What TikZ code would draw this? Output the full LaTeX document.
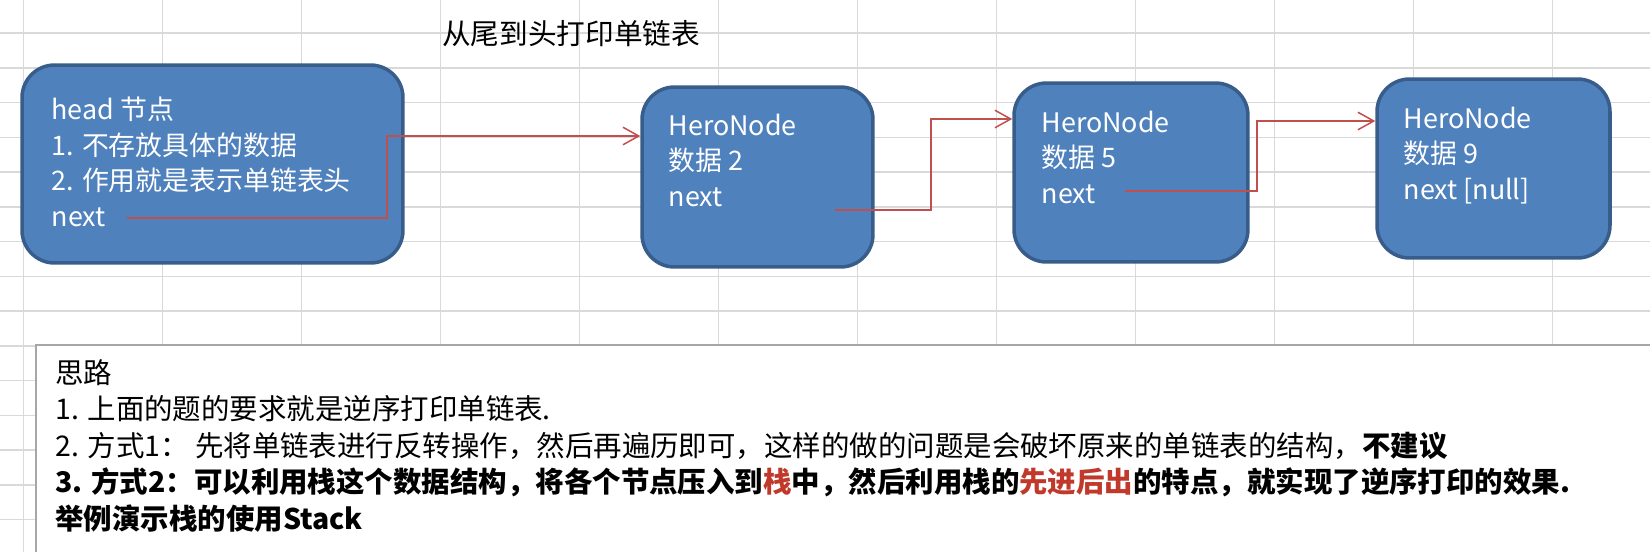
\documentclass[tikz,border=0pt]{standalone}
\usepackage{fontspec}
\setmainfont{Noto Sans CJK SC}
\usetikzlibrary{arrows.meta,positioning}
\usepackage{xcolor}
\definecolor{nodeblue}{HTML}{4F81BD}
\definecolor{nodeedge}{HTML}{385D8A}
\definecolor{linkred}{HTML}{C0504D}
\definecolor{gridgray}{HTML}{D9D9D9}
\definecolor{boxgray}{HTML}{A6A6A6}
\definecolor{hotred}{HTML}{C0392B}

\tikzset{
  listnode/.style={draw=nodeedge, fill=nodeblue, line width=2pt, rounded corners=0.65cm, inner sep=0pt},
  nodetext/.style={text=white, align=left, anchor=north west, inner sep=0pt, font=\fontsize{15.3}{20.4}\selectfont},
  link/.style={->, draw=linkred, line width=0.85pt},
  gridline/.style={draw=gridgray, line width=0.85pt},
}

\begin{document}
\begin{tikzpicture}[x=0.02cm, y=-0.02cm, >={Straight Barb[length=9pt,width=10pt]}]
  \useasboundingbox (0,0) rectangle (1650,552);
  \foreach \gx in {0,...,11} \draw[gridline] (23.5+139*\gx,0) -- (23.5+139*\gx,552);
  \foreach \gy in {0,...,14} \draw[gridline] (0,33+34.75*\gy) -- (1650,33+34.75*\gy);

  \node (title) [anchor=west, inner sep=0pt, font=\fontsize{16.3}{20}\selectfont] at (442,34) {从尾到头打印单链表};

  \node (head) [listnode, minimum width=7.62cm, minimum height=3.96cm] at (212.5,164) {};
  \node (n2) [listnode, minimum width=4.62cm, minimum height=3.6cm] at (757.5,177) {};
  \node (n5) [listnode, minimum width=4.68cm, minimum height=3.58cm] at (1131,172.5) {};
  \node (n9) [listnode, minimum width=4.66cm, minimum height=3.58cm] at (1493.5,168.5) {};

  \node (headtext) [nodetext] at ([shift={(31,33)}]head.north west) {head 节点\\1. 不存放具体的数据\\2. 作用就是表示单链表头\\next};
  \node (n2text) [nodetext] at ([shift={(28,28)}]n2.north west) {HeroNode\\数据 2\\next};
  \node (n5text) [nodetext] at ([shift={(29,29)}]n5.north west) {HeroNode\\数据 5\\next};
  \node (n9text) [nodetext] at ([shift={(28,29)}]n9.north west) {HeroNode\\数据 9\\next [null]};

  \coordinate (headnext) at (127,218);
  \coordinate (n2next) at (835,210);
  \coordinate (n5next) at (1125,191);

  \draw[link] (headnext) -- ++(260,0) |- ([shift={(0,-41)}]n2.west);
  \draw[link] (n2next) -- ++(96,0) |- ([shift={(0,-53.5)}]n5.west);
  \draw[link] (n5next) -- ++(132,0) |- ([shift={(0,-47.5)}]n9.west);

  \fill[white] (36,345) rectangle (1650,552);
  \draw[draw=boxgray, line width=1.1pt] (1650,345) -- (36,345) -- (36,552);

  \node (notes) [anchor=north west, inner sep=0pt, align=left, font=\fontsize{16.2}{20.8}\selectfont] at (55,359) {思路\\1. 上面的题的要求就是逆序打印单链表.\\2. 方式1： 先将单链表进行反转操作，然后再遍历即可，这样的做的问题是会破坏原来的单链表的结构，\textbf{不建议}\\\textbf{3. 方式2：可以利用栈这个数据结构，将各个节点压入到\textcolor{hotred}{栈}中，然后利用栈的\textcolor{hotred}{先进后出}的特点，就实现了逆序打印的效果.}\\\textbf{举例演示栈的使用Stack}};
\end{tikzpicture}
\end{document}
